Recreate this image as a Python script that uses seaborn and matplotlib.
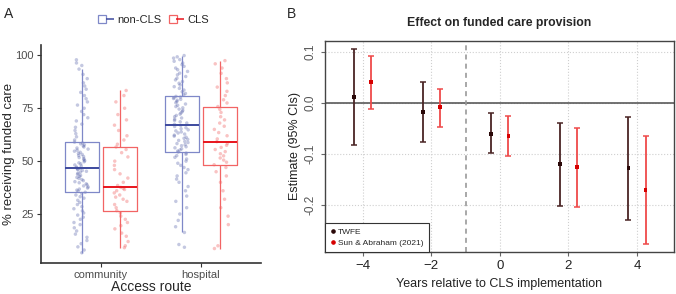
import numpy as np
import pandas as pd
import matplotlib.pyplot as plt
import seaborn as sns
from matplotlib.lines import Line2D
from matplotlib.legend_handler import HandlerTuple

sns.set_style("ticks")
plt.rcParams["font.family"] = ["Liberation Sans", "DejaVu Sans"]

# ---- Panel A data: % receiving funded care per provider
routes = ["community", "hospital"]
groups = ["non-CLS", "CLS"]

noncls_community = [
    6.7, 8, 9.5, 11, 12.5, 14, 15.5, 17, 18.5, 20, 21, 22.5, 23.5, 24.5, 25.5,
    26.5, 27.5, 28.5, 29.5, 30.5, 31.5, 32.5, 33.2, 34, 34.7, 35.3,
    35.8, 36.3, 36.8, 37.3, 37.8, 38.3, 38.8, 39.3, 39.8, 40.3, 40.8, 41.3,
    41.8, 42.3, 42.8, 43.3, 43.8, 44.3, 44.8, 45.2, 45.6, 46, 46.3, 46.6, 46.8,
    47.2, 47.7, 48.2, 48.7, 49.2, 49.7, 50.2, 50.7, 51.2, 51.7, 52.2, 52.7,
    53.2, 53.7, 54.2, 54.7, 55.2, 55.7, 56.2, 56.7, 57.2, 57.7, 58.2, 58.6, 59.0,
    60, 61.5, 63, 64.5, 66, 67.5, 69, 70.5, 72, 73.5, 75, 76.5, 78, 79.5, 81,
    82.5, 84, 85.5, 87, 89, 91, 93.5, 95.2, 96.4, 97.9,
]
noncls_hospital = [
    9.3, 10.6, 16.3, 19, 22, 25, 28, 31, 33.5, 36, 38, 40, 41.5, 43, 44.5, 46,
    47, 48, 49, 50, 51, 51.8, 52.6, 53.2, 53.8, 54.3,
    54.8, 55.3, 55.8, 56.3, 56.8, 57.3, 57.8, 58.3, 58.8, 59.3, 59.8, 60.3,
    60.8, 61.3, 61.8, 62.3, 62.8, 63.3, 63.8, 64.3, 64.8, 65.3, 65.8, 66.4, 66.9,
    67.4, 68, 68.6, 69.2, 69.8, 70.4, 71, 71.6, 72.2, 72.8, 73.4, 74, 74.6,
    75.2, 75.8, 76.4, 77, 77.6, 78.2, 78.8, 79.2, 79.6, 80, 80.3, 80.6,
    81.3, 82, 82.8, 83.6, 84.4, 85.2, 86, 86.8, 87.6, 88.4, 89.2, 90, 90.8,
    91.6, 92.4, 93.2, 94, 94.8, 95.6, 96.4, 97.2, 98, 98.7, 99.3, 99.9,
]
cls_community = [
    9.1, 10, 12, 14.5, 16, 18, 19.5, 21, 22.5, 24, 25.5, 26.6,
    28, 29.5, 31, 32, 33, 34, 35, 36, 36.6, 37.1, 37.6,
    38.5, 40, 42, 44, 46, 48, 50, 52, 54, 55.5, 56.7,
    58, 60, 62, 64.5, 67, 69.5, 72, 75, 78, 81, 83.4,
]
cls_hospital = [
    8.7, 10, 20, 24, 28, 32, 36, 40, 43, 45, 47, 48.3,
    49.5, 50.5, 51.5, 52.5, 53.5, 54.5, 55.5, 56.5, 57.5, 58.4, 59.2,
    60.5, 62, 63.5, 65, 66.5, 68, 69.5, 71, 73, 74.5, 75.8,
    77.5, 79, 81, 83, 85, 87, 89, 91.5, 94, 96, 97.5,
]

# ---- Panel B data: event-study estimates
years = [-4, -2, 0, 2, 4]
twfe_est = [0.012, -0.017, -0.060, -0.120, -0.127]
twfe_lo = [-0.082, -0.076, -0.097, -0.202, -0.229]
twfe_hi = [0.106, 0.042, -0.020, -0.039, -0.027]
sa_est = [0.041, -0.008, -0.064, -0.125, -0.171]
sa_lo = [-0.012, -0.046, -0.103, -0.203, -0.277]
sa_hi = [0.093, 0.027, -0.025, -0.048, -0.064]

frames = []
for vals, route, grp in [(noncls_community, "community", "non-CLS"),
                         (cls_community, "community", "CLS"),
                         (noncls_hospital, "hospital", "non-CLS"),
                         (cls_hospital, "hospital", "CLS")]:
    frames.append(pd.DataFrame({"route": route, "group": grp, "pct": vals}))
df = pd.concat(frames, ignore_index=True)

pt_colors = {"non-CLS": "#3c4a9c", "CLS": "#f06a6a"}
box_colors = {"non-CLS": "#7f88c8", "CLS": "#f26464"}
med_colors = {"non-CLS": "#3d4a9e", "CLS": "#e8141c"}

fig = plt.figure(figsize=(6.76, 2.94), dpi=100)
axA = fig.add_axes([0.0607, 0.105, 0.3254, 0.742])
axB = fig.add_axes([0.4808, 0.143, 0.5163, 0.7177])

# ---- Panel A
np.random.seed(3)
sns.stripplot(data=df, x="route", y="pct", hue="group", order=routes,
              hue_order=groups, dodge=True, jitter=0.15, size=2.5,
              palette=pt_colors, linewidth=0, ax=axA, legend=False, zorder=1)
for coll in axA.collections:
    fc = coll.get_facecolor()
    if len(fc) and fc[0][2] > fc[0][0]:
        coll.set_alpha(0.3)
    else:
        coll.set_alpha(0.4)

sns.boxplot(data=df, x="route", y="pct", hue="group", order=routes,
            hue_order=groups, fill=False, width=0.75, gap=0.1,
            showcaps=False, showfliers=False, linewidth=0.9,
            palette=box_colors, ax=axA, legend=False, zorder=2)
for cont, grp in zip(axA.containers, groups):
    for m in cont.medians:
        m.set_color(med_colors[grp])
        m.set_linewidth(1.4)

axA.set_xlim(-0.6, 1.6)
axA.set_ylim(1.8, 104.9)
axA.set_yticks([25, 50, 75, 100])
axA.set_xlabel("Access route", fontsize=10, labelpad=0)
axA.set_ylabel("% receiving funded care", fontsize=9.5, labelpad=0.5)
axA.tick_params(labelsize=8, labelcolor="#4d4d4d", color="#333333", length=3,
                pad=2)
for s in ["top", "right"]:
    axA.spines[s].set_visible(False)
for s in ["left", "bottom"]:
    axA.spines[s].set_color("#333333")
    axA.spines[s].set_linewidth(1.2)

handles = []
for grp in groups:
    sq = Line2D([], [], marker="s", ms=5.5, mfc="none", mec=box_colors[grp],
                mew=0.9, ls="none")
    mid = Line2D([], [], marker="_", ms=5.5, mec=med_colors[grp], mew=1.1,
                 ls="none")
    handles.append((sq, mid))
fig.legend(handles, groups, handler_map={tuple: HandlerTuple(ndivide=None)},
           loc="center", bbox_to_anchor=(0.229, 0.932), ncol=2, frameon=False,
           fontsize=8, handlelength=1.0, handletextpad=0.5, columnspacing=0.9)

# ---- Panel B
axB.grid(True, ls=":", color="#cfcfcf", lw=0.8)
axB.set_axisbelow(True)
axB.axhline(0, color="#5a5a5a", lw=1.2, zorder=1)
axB.axvline(-1, color="#999999", lw=1.2, ls=(0, (3, 2.5)), zorder=1)

series = [
    ("TWFE", -0.25, twfe_est, twfe_lo, twfe_hi, "#4a2424", "#2a0808"),
    ("Sun & Abraham (2021)", 0.25, sa_est, sa_lo, sa_hi, "#ef4a4a", "#d60000"),
]
est_frames = []
for name, off, est, lo, hi, lc, pc in series:
    xs = np.array(years) + off
    est = np.array(est)
    yerr = np.vstack([est - np.array(lo), np.array(hi) - est])
    axB.errorbar(xs, est, yerr=yerr, fmt="none", ecolor=lc, elinewidth=1.3,
                 capsize=2.2, capthick=1.1, zorder=2)
    est_frames.append(pd.DataFrame({"x": xs, "est": est, "model": name}))
est_df = pd.concat(est_frames, ignore_index=True)
sns.scatterplot(data=est_df, x="x", y="est", hue="model", marker="s", s=7,
                palette={"TWFE": "#2a0808", "Sun & Abraham (2021)": "#d60000"},
                linewidth=0, ax=axB, legend=False, zorder=3)

axB.set_xlim(-5.1, 5.08)
axB.set_ylim(-0.292, 0.122)
axB.set_xticks([-4, -2, 0, 2, 4])
axB.set_yticks([-0.2, -0.1, 0.0, 0.1])
axB.set_yticklabels(["-0.2", "-0.1", "0.0", "0.1"], rotation=90, va="center")
axB.tick_params(axis="y", labelsize=8.5, labelcolor="#555555", length=3, pad=3,
                color="#666666")
axB.tick_params(axis="x", labelsize=9.5, labelcolor="#222222", length=3,
                color="#666666", pad=3)
for s in axB.spines.values():
    s.set_color("#444444")
    s.set_linewidth(1.0)
axB.set_xlabel("Years relative to CLS implementation", fontsize=9,
               color="#222222", labelpad=4)
axB.set_ylabel("Estimate (95% CIs)", fontsize=9, color="#222222", labelpad=3)
axB.set_title("Effect on funded care provision", fontsize=8.8,
              fontweight="bold", pad=11)

leg_handles = [Line2D([], [], marker="o", ms=2.3, color="#2a0808", ls="none"),
               Line2D([], [], marker="o", ms=2.3, color="#d60000", ls="none")]
leg = axB.legend(leg_handles, ["TWFE", "Sun & Abraham (2021)"],
                 loc="lower left", borderaxespad=0, fontsize=6,
                 handlelength=0.6, handletextpad=0.4, fancybox=False,
                 framealpha=1, edgecolor="#333333", borderpad=0.6,
                 labelspacing=0.35)
leg.get_frame().set_linewidth(0.8)

fig.text(0.006, 0.975, "A", fontsize=10, va="top")
fig.text(0.424, 0.975, "B", fontsize=10, va="top")

fig.savefig("out.png", dpi=100)
